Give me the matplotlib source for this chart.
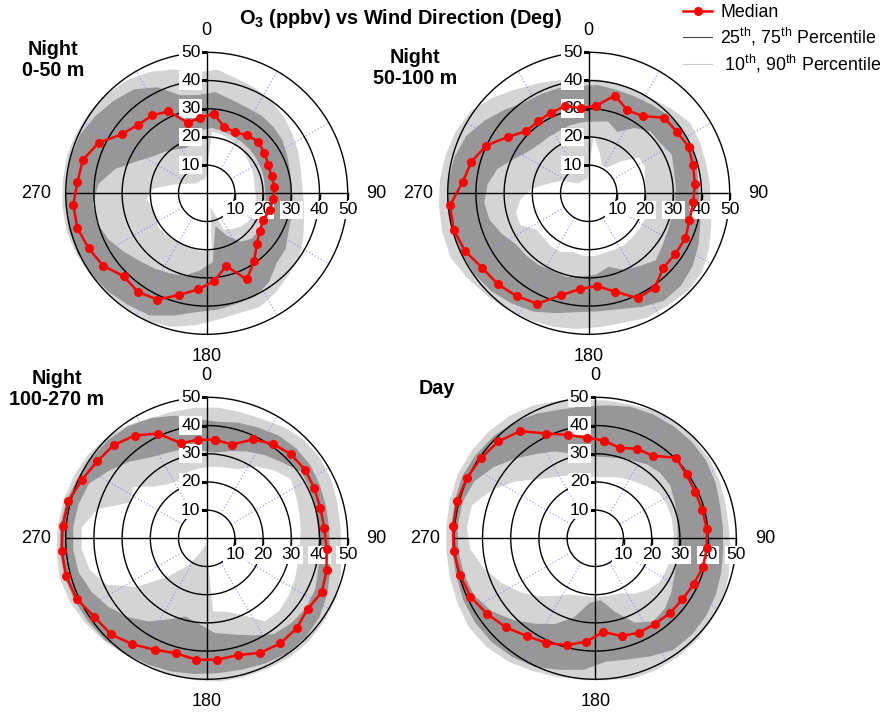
import numpy as np
import matplotlib
matplotlib.use('Agg')
import matplotlib.pyplot as plt
from matplotlib.lines import Line2D

plt.rcParams['font.family'] = ['Liberation Sans', 'DejaVu Sans']
plt.rcParams['mathtext.fontset'] = 'custom'
plt.rcParams['mathtext.rm'] = 'Liberation Sans'
plt.rcParams['mathtext.it'] = 'Liberation Sans:italic'
plt.rcParams['mathtext.bf'] = 'Liberation Sans:bold'

# ---------------- data ----------------
directions = [5, 15, 25, 35, 45, 55, 65, 75, 85, 95, 105, 115,
              125, 135, 145, 155, 165, 175, 185, 195, 205, 215, 225, 235,
              245, 255, 265, 275, 285, 295, 305, 315, 325, 335, 345, 355]

ring_values = [10, 20, 30, 40, 50]
ring_labels = ['10', '20', '30', '40', '50']
compass_labels = ['0', '90', '180', '270']
panel_titles = ['Night\n0-50 m', 'Night\n50-100 m', 'Night\n100-270 m', 'Day']

# Panel 1: Night 0-50 m
median1 = [28.3, 24.3, 23.9, 25.1, 25.9, 24.9, 24.1, 23.8, 24.1, 23.7, 23.1, 22.2,
           23.0, 25.2, 29.3, 33.7, 26.7, 31.2, 34.2, 37.3, 41.6, 42.6, 41.6, 44.8,
           46.2, 47.5, 47.5, 46.0, 45.5, 42.3, 36.6, 34.4, 33.7, 32.1, 25.9, 26.9]
p10_1 = [21.9, 21.5, 20.7, 20, 19.2, 18.5, 18, 17.5, 17.1, 17.5, 18, 18,
         17.7, 16.8, 15.5, 14.3, 5, 20, 20.7, 20.2, 20.2, 20.3, 20.5, 21,
         19.8, 20, 21.4, 19, 12, 8, 6, 5, 5, 5, 5, 5]
p25_1 = [23.2, 22.8, 22.2, 22, 21.8, 21.5, 21.2, 21, 20.7, 21, 21.5, 22.3,
         22.7, 22.7, 21, 16.5, 12, 24.5, 27.5, 30.2, 31.3, 32.5, 33.8, 36,
         38.5, 40.3, 40.5, 38.5, 33.5, 27, 23, 20.9, 19, 17.6, 18.5, 22.6]
p75_1 = [36, 34.3, 33.6, 33.7, 33.4, 32.8, 31.5, 30.6, 30.1, 30.6, 31.2, 32,
         34.2, 35.1, 38.5, 40.5, 40.6, 41.5, 42.3, 44.9, 47.8, 48.4, 49.3, 50,
         50.5, 50.6, 50.2, 49.8, 50, 49.5, 48, 46.5, 45, 41.5, 36, 35]
p90_1 = [44, 42, 41, 40, 38.5, 37, 35.7, 34.5, 34, 34.5, 35.7, 37.8,
         40, 41, 42.8, 44.5, 44, 45, 47, 49, 50, 50, 50, 50.5,
         51, 51.5, 51.4, 51.2, 51.3, 51, 50.5, 50, 49, 47.5, 45.5, 43]

# Panel 2: Night 50-100 m
median2 = [31.2, 35.9, 32.5, 33.4, 37.9, 38.1, 39.1, 38.3, 37.8, 37.2, 37.0, 37.8,
           37.5, 37.4, 40.9, 41.0, 36.1, 33.0, 34.0, 37.4, 43.2, 44.5, 45.6, 46.1,
           48.4, 49.6, 49.4, 44.9, 43.1, 40.1, 34.9, 31.2, 31.2, 31.6, 32.0, 30.3]
p10_2 = [20.6, 15, 11, 11, 16, 22, 22, 20.5, 20.5, 20, 21, 22,
         22, 22, 22.3, 22, 21.8, 22.4, 22.2, 21.5, 23, 23, 22.5, 22.5,
         26.7, 26.7, 24.2, 20, 14, 10.6, 6.5, 5, 5, 5, 5, 5]
p25_2 = [25.5, 26.4, 24, 28.3, 31, 31, 32.5, 31.3, 31, 30.8, 30.6, 31,
         32, 33.6, 31.5, 30, 27, 29, 29.5, 30.7, 30.3, 31, 31.3, 31.5,
         34, 36.4, 37.2, 36, 33.5, 29, 26, 24.7, 24.5, 24.5, 25, 25.3]
p75_2 = [38.5, 38, 38, 38.5, 39.5, 40.3, 40.2, 39.8, 39, 39.5, 41, 43,
         45, 46.3, 46.5, 44.5, 42.5, 42, 42.3, 44, 46.3, 47.7, 49, 49.7,
         50.2, 50.4, 50.3, 50, 49.3, 48, 45, 42, 39.5, 39, 38.8, 38.3]
p90_2 = [40.5, 40.3, 40, 40.5, 42, 43.8, 43.4, 43, 43, 43.5, 45, 47,
         49, 49.3, 48.7, 48.8, 47.5, 47.6, 48.3, 49, 49.6, 50.5, 51.2, 52.5,
         54, 53.7, 53.3, 53, 52.5, 52, 51, 48, 45, 43, 41.5, 40.5]

# Panel 3: Night 100-270 m
median3 = [35.1, 34.4, 38.7, 40.9, 42.2, 42.5, 42.1, 41.7, 41.9, 42.7, 44.0, 45.1,
           43.7, 45.1, 45.5, 44.8, 42.9, 43.2, 43.2, 42.2, 43.6, 45.9, 48.1, 48.6,
           50.9, 51.6, 51.6, 51.3, 50.8, 48.9, 47.5, 46.7, 44.5, 41.0, 34.9, 35.1]
p10_3 = [25.5, 26, 27, 31, 34, 36.5, 35, 34, 33.5, 33, 33.5, 34.5,
         35.5, 36.4, 36, 30, 27, 26, 2, 3, 6, 12, 19, 30,
         39, 43, 44.5, 44.5, 40, 30, 31.8, 26, 23.5, 22.7, 24.5, 25]
p25_3 = [30.5, 32, 34, 36, 38, 41, 40.5, 39.8, 39.6, 40.2, 41, 42.5,
         43, 42.5, 41.5, 38, 35.3, 33.7, 30.5, 28.7, 31.7, 36, 39.5, 42.5,
         45, 47, 47.5, 47.5, 47, 46, 42, 38.5, 35, 33.4, 32.7, 31.5]
p75_3 = [41.5, 42.5, 43.3, 44.5, 45, 45, 44.3, 43.8, 43.6, 43.8, 45.3, 47.2,
         48.8, 49.7, 49.8, 49, 48.2, 48, 48.3, 48.9, 49.4, 50, 51, 51.4,
         51.8, 52.3, 52.3, 52.2, 51.5, 50.5, 49.8, 49.4, 48.5, 47, 45, 42.5]
p90_3 = [46.5, 46.3, 46.7, 48, 49, 49.3, 48.8, 48, 47.6, 48, 49.3, 50.5,
         51, 51.5, 51.5, 51, 51, 51, 50.5, 50, 50, 50.5, 51.5, 52.5,
         53.5, 54, 53.5, 53, 52.5, 52, 51.5, 50.5, 49, 47, 46.5, 46.5]

# Panel 4: Day
median4 = [34.8, 33.2, 35.0, 35.7, 40.4, 39.5, 39.1, 39.2, 39.7, 39.7, 39.5, 38.5,
           37.7, 37.5, 37.0, 36.9, 35.9, 33.3, 36.8, 39.2, 41.0, 42.3, 44.7, 46.8,
           48.9, 49.7, 50.4, 50.6, 50.7, 50.3, 49.5, 48.6, 46.4, 41.0, 38.0, 35.8]
p10_4 = [21.7, 22.5, 23.5, 24.5, 26, 27.7, 28, 28, 27.8, 27.8, 27.7, 27.6,
         27.5, 26, 24, 21.5, 21, 20.8, 20.8, 21, 22, 25, 29, 33,
         37, 41, 44.5, 45.7, 45.3, 40.5, 35, 29.5, 26.4, 24.5, 22.7, 22]
p25_4 = [29, 29.5, 30.5, 32, 32.7, 32.5, 31, 30, 29.3, 29.3, 30, 31,
         33, 35, 36, 33, 27, 22, 23, 29, 33.5, 37, 41, 45,
         47.5, 48.3, 48.8, 49, 48.8, 47.5, 44, 40, 36.5, 34, 31, 29]
p75_4 = [47.3, 48.3, 48.5, 48.5, 48.4, 48, 47, 45.8, 45.4, 45.5, 46.3, 47.2,
         48, 48.4, 48.3, 46.2, 44.5, 43.9, 46.8, 48.3, 50.4, 51.4, 52, 52.1,
         51.7, 51.1, 51, 51.2, 51.6, 52.1, 51.7, 51.1, 50.3, 48.8, 47.3, 47]
p90_4 = [49, 49, 50, 50.3, 49.8, 49.3, 48.6, 47.8, 47.5, 48, 49, 50.3,
         50.5, 51, 51.2, 51.5, 51.5, 50.5, 50.5, 51, 52, 53.5, 54.5, 54.8,
         54, 53.4, 53, 53, 53.3, 53.8, 53.7, 53.5, 53, 52, 50.5, 49.3]

panels = [
    (median1, p10_1, p25_1, p75_1, p90_1),
    (median2, p10_2, p25_2, p75_2, p90_2),
    (median3, p10_3, p25_3, p75_3, p90_3),
    (median4, p10_4, p25_4, p75_4, p90_4),
]

# ---------------- layout / style ----------------
W, H = 884, 713
fig = plt.figure(figsize=(W / 100, H / 100), dpi=100)

R_MAX = 56.0
PX_PER_UNIT = 2.82
centers = [(206.7, 193.3), (588.7, 193.3), (206.7, 538.3), (595.3, 538.3)]
title_pos = [(53, 60), (415, 68), (57, 389), (437, 388)]

LIGHT = '#d4d4d4'
DARK = '#979797'
RED = '#ff0000'
SPOKE = '#8090f0'
label_box = dict(boxstyle='square,pad=0.1', fc='white', ec='none')


def closed(v):
    return list(v) + [v[0]]


def add_panel(center, data):
    med, p10, p25, p75, p90 = data
    cx, cy = center
    rpx = R_MAX * PX_PER_UNIT
    ax = fig.add_axes([(cx - rpx) / W, (H - cy - rpx) / H, 2 * rpx / W, 2 * rpx / H],
                      projection='polar')
    ax.set_theta_zero_location('N')
    ax.set_theta_direction(-1)
    ax.set_ylim(0, R_MAX)
    ax.set_xticks([])
    ax.set_yticks([])
    ax.grid(False)
    ax.spines['polar'].set_visible(False)
    ax.patch.set_alpha(0)

    th = np.deg2rad(closed(directions))
    ax.fill(th, closed(p90), color=LIGHT, lw=0, zorder=1.0)
    ax.fill(th, closed(p75), color=DARK, lw=0, zorder=1.1)
    ax.fill(th, closed(p25), color=LIGHT, lw=0, zorder=1.2)
    ax.fill(th, closed(p10), color='white', lw=0, zorder=1.3)

    # dotted spokes
    for a in [30, 60, 120, 150, 210, 240, 300, 330]:
        ax.plot([np.deg2rad(a)] * 2, [ring_values[0], ring_values[-1]],
                color=SPOKE, lw=0.8, ls=(0, (1, 2)), zorder=2.5)
    # rings
    circ = np.linspace(0, 2 * np.pi, 361)
    for r in ring_values:
        ax.plot(circ, np.full_like(circ, r), color='black', lw=1.0, zorder=3)
    # cross hair
    for a in [0, 90, 180, 270]:
        ax.plot([np.deg2rad(a)] * 2, [0, ring_values[-1]], color='black', lw=1.0, zorder=3)
    # ticks
    ax.plot([0] * len(ring_values), ring_values, ls='none', marker=0, ms=4.5,
            mew=1.0, color='black', zorder=3)
    ax.plot([np.pi / 2] * len(ring_values), ring_values, ls='none', marker=3, ms=4.5,
            mew=1.0, color='black', zorder=3)
    # radial labels
    for r, lab in zip(ring_values, ring_labels):
        ax.annotate(lab, xy=(0, r), xytext=(-4.5, 0), textcoords='offset points',
                    ha='right', va='center', fontsize=12.5, bbox=label_box, zorder=4)
        ax.annotate(lab, xy=(np.pi / 2, r), xytext=(0, -12), textcoords='offset points',
                    ha='center', va='center', fontsize=12.5, bbox=label_box, zorder=4)
    # compass labels
    ax.text(0, 57.8, compass_labels[0], ha='center', va='center', fontsize=13)
    ax.text(np.pi / 2, 56.7, compass_labels[1], ha='left', va='center', fontsize=13)
    ax.text(np.pi, 57.8, compass_labels[2], ha='center', va='center', fontsize=13)
    ax.text(3 * np.pi / 2, 55.0, compass_labels[3], ha='right', va='center', fontsize=13)

    # median
    ax.plot(th, closed(med), color=RED, lw=1.8, marker='o', ms=5.5, zorder=6)
    return ax


for c, d, t, tp in zip(centers, panels, panel_titles, title_pos):
    add_panel(c, d)
    fig.text(tp[0] / W, 1 - tp[1] / H, t, ha='center', va='center', fontsize=14.2,
             fontweight='bold', linespacing=1.12)

fig.text(400 / W, 1 - 19 / H, r'O$_\mathbf{3}$ (ppbv) vs Wind Direction (Deg)',
         ha='center', va='center', fontsize=14.4, fontweight='bold')

handles = [Line2D([], [], color=RED, lw=1.8, marker='o', ms=5.5),
           Line2D([], [], color='#444444', lw=0.8),
           Line2D([], [], color='#cccccc', lw=0.8)]
labels = ['Median', r'25$^{\mathrm{th}}$, 75$^{\mathrm{th}}$ Percentile',
          r' 10$^{\mathrm{th}}$, 90$^{\mathrm{th}}$ Percentile']
fig.legend(handles, labels, loc='upper left', bbox_to_anchor=(683 / W, 1 - 4 / H),
           frameon=False, fontsize=12.8, handlelength=1.65, handletextpad=0.45,
           labelspacing=0.28, borderpad=0, borderaxespad=0)

fig.savefig('out.png', dpi=100, facecolor='white')
